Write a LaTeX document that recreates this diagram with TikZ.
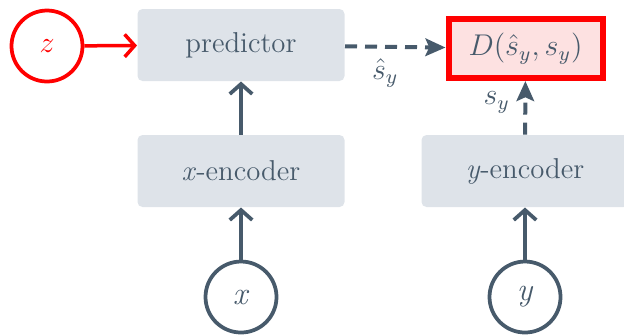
\documentclass[tikz,border=0pt]{standalone}
\usetikzlibrary{arrows.meta,positioning}
\definecolor{slate}{HTML}{475A6B}
\definecolor{boxgray}{HTML}{DEE3E9}
\definecolor{losspink}{HTML}{FDE1E1}

\begin{document}
\begin{tikzpicture}[x=0.4pt,y=-0.4pt,
        font=\fontsize{11.5}{14}\selectfont,
        block/.style={fill=boxgray,text=slate,rounded corners=2pt,
            minimum width=82.8pt,minimum height=28.8pt,inner sep=0pt},
        var/.style={circle,draw=slate,line width=1.5pt,minimum size=28.4pt,
            inner sep=0pt,text=slate,font=\fontsize{13}{16}\selectfont},
        feed/.style={draw=slate,line width=1.5pt,
            -{Straight Barb[length=4pt,width=9pt]}},
        embed/.style={draw=slate,line width=1.6pt,dash pattern=on 4.8pt off 3.2pt,
            -{Stealth[length=8pt,width=7pt,inset=1.5pt]}}]
        \useasboundingbox (0,0) rectangle (624,335);
        % context branch
        \node[var,draw=red,text=red] (z) at (47,46) {$z$};
        \node[block] (pred) at (241,45) {predictor};
        \node[block] (xenc) at (241,171) {\textit{x}-encoder};
        \node[var] (x) at (241,297) {\textit{x}};
        % target branch
        \node[block] (yenc) at (525,171) {\textit{y}-encoder};
        \node[var] (y) at (525,297) {\textit{y}};
        \node[draw=red,fill=losspink,text=slate,line width=2.4pt,inner sep=0pt,
            minimum width=61.6pt,minimum height=23.6pt] (loss) at (525.5,48.5) {$D(\hat{s}_y,s_y)$};
        \draw[feed,draw=red,line width=1.4pt] (z) -- (pred);
        \draw[feed] (x) -- (xenc);
        \draw[feed] (xenc) -- (pred);
        \draw[feed] (y) -- (yenc);
        \draw[embed] (pred) -- node[pos=0.4,below=0.5pt,text=slate] {$\hat{s}_y$} (loss);
        \draw[embed] (yenc) -- node[pos=0.6,left=2pt,text=slate] {$s_y$} (loss);
    \end{tikzpicture}
\end{document}
